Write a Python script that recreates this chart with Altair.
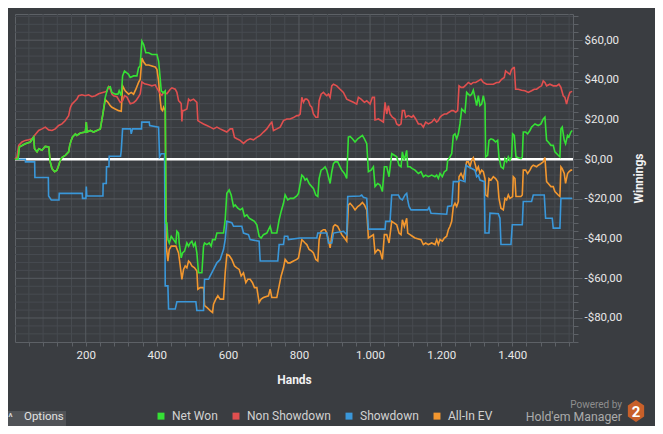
import altair as alt
import pandas as pd

# ---------------- data ----------------
series_names = ["Net Won", "Non Showdown", "Showdown", "All-In EV"]
series_colors = ["#35e035", "#e04f4f", "#3a97d9", "#f2972f"]
draw_order = ["All-In EV", "Showdown", "Non Showdown", "Net Won"]

net_hands = [1, 9.5, 13, 30, 44, 53.5, 56, 63, 68, 77, 86, 96, 100, 105, 112.6, 119, 124, 128.5, 133, 142.5,
             152, 155, 159, 163, 171, 175, 185, 199, 201.6, 203.5, 213, 222, 231.6, 241, 247.5, 255, 262.5, 269,
             273.7, 283, 290.6, 294, 300, 303.7, 309, 320.6, 325, 334.6, 344, 348.7, 353, 358, 363, 369, 377, 386,
             395.5, 400.3, 405, 406.8, 412.5, 418, 423.7, 425.6, 428.4, 431.2, 435, 440.6, 447, 453.7, 456.5, 461,
             463, 468.7, 472.4, 478, 484.6, 489.3, 494, 498.7, 503.4, 508, 512.7, 517.4, 526.8, 531.5, 534.3,
             540.8, 547.4, 553, 556.8, 564.3, 569, 587.7, 592.4, 597, 603.6, 609.2, 615.8, 620.5, 628, 634.5, 641,
             646.7, 653.3, 659.8, 667.3, 674.8, 681.4, 688, 693.6, 700, 709.5, 718.9, 723.6, 737.6, 744.2, 749.8,
             756.4, 761, 768.5, 775, 784.5, 793.8, 798.6, 808, 812.6, 817.3, 822, 828.6, 836, 840.7, 847.3, 853,
             856.7, 862.3, 868.8, 873.5, 878.2, 882.9, 887.6, 892.3, 897, 901.6, 909, 915.7, 920.4, 927.9, 934.4,
             939, 943.8, 950.4, 957.8, 965.4, 972, 978.5, 984.1, 990.7, 995.3, 1002.8, 1009.4, 1014, 1021.6,
             1028.1, 1034.7, 1040.3, 1046.9, 1053.4, 1061, 1068.4, 1075, 1081.5, 1087.2, 1090.9, 1096.5, 1103.1,
             1105.9, 1112.5, 1119, 1126.5, 1135.9, 1143.4, 1150, 1156.5, 1164, 1173.4, 1182.7, 1187.5, 1192.2,
             1196.9, 1203.4, 1209, 1215.6, 1218.4, 1222.2, 1229.7, 1234.3, 1239, 1243.7, 1248.4, 1253, 1257.8,
             1262.4, 1267.1, 1271.8, 1276.5, 1281.2, 1285.9, 1290.5, 1295.2, 1299.9, 1304.6, 1309.3, 1314, 1318.7,
             1323.4, 1325.2, 1330.8, 1334.6, 1340.2, 1346.8, 1353.3, 1359, 1362.7, 1368.3, 1374.9, 1379.6, 1384.3,
             1389, 1393.6, 1398.3, 1401.1, 1405.8, 1410.5, 1424.5, 1428.3, 1431.1, 1437.7, 1443.3, 1449.8, 1454.5,
             1459.2, 1463.9, 1473.3, 1480.8, 1487.3, 1492, 1496.7, 1501.4, 1508.9, 1515.4, 1520.1, 1529.5, 1534.2,
             1537, 1540.7, 1546.4, 1550.1, 1555.7, 1559.5, 1565.1, 1568.8]
net_vals = [0, 0, 6.2, 7.8, 8.7, 11.2, 5.3, 3.7, 5.3, 4.5, 6.5, 6.2, -1.3, -4.7, -6.3, -5.5, -3, -0.5, 0.8, 2,
            3.7, 7, 9.5, 11.2, 12.8, 12, 13.2, 13.7, 18.7, 13.7, 14.5, 13.7, 14.5, 15.3, 22, 31.2, 36.2, 36.5,
            33.7, 32.8, 32.8, 34.5, 32, 42, 44.5, 42.8, 41.2, 42, 42, 46.2, 47, 59.5, 57.8, 53.7, 53.7, 52.8,
            52.8, 52.8, 49.5, 46.2, 34.5, 33.5, 34.5, -32.2, -32.2, -40.5, -42.2, -38.8, -40.5, -42.2, -36.3, -37.2,
            -42.2, -49.7, -47.2, -46.3, -42.2, -43.8, -42.2, -41.3, -43.8, -42.2, -47.2, -57.2, -57.2, -43.8, -42.2,
            -43, -42.2, -43.8, -40.5, -40.5, -37.2, -37.2, -30.5, -17.2, -15.5, -18, -23.8, -23, -24.7, -25.5, -24.7,
            -28.8, -28, -29.7, -30.5, -31.3, -33, -38.8, -39.7, -38, -37.2, -33.8, -37.2, -37.2, -30.5, -26.3,
            -22.2, -18, -20.5, -19.7, -19.7, -18.5, -17.2, -8, -8.8, -10.5, -9.7, -12.2, -13.8, -14.7, -18, -18.8,
            -9.7, -5.5, -4.7, -3.8, -5.5, -8.8, -12.2, -6.3, -2.2, -1.3, -1.3, -3.8, -5.5, -7.2, -9.7,
            11.2, 11.5, 10.3, 8.7, 10.3, 11.2, 12, 10.3, 7.8, -6.3, -5.5, -3.8, -13.8, -12.2,
            -13, -16.3, -3.8, -3.8, -8.8, 2.8, 2, 1.2, -3, -3.8, 3.7, -0.5, 4.5,
            -3.8, -3.8, -4.7, -5.5, -7.2, -6.3, -8.8, -8, -8.8, -8, -8.8, -8, -9.7,
            -7.2, -8.8, -6.3, -5.5, -0.5, 0.3, 2.8, 12, 12.8, 10.3, 12.8, 17.8, 25.3,
            24.5, 23.7, 33.7, 32.8, 32, 32.8, 34.8, 31.2, 27, 32, 27, 27.8, 32,
            27.8, 1.2, 2, 9.5, 10.3, 9.8, 8.7, 9.5, 1.2, -3.8, -4.7, 0.3, -1.3,
            1.2, -0.5, 1.2, 12.8, 12, 1.2, 0.3, 1.2, 13.7, 13.7, 12.8, 14.5, 16.2,
            17, 17.8, 17, 17.8, 20.3, 21.2, 9.5, 8.7, 7, 7, 3.7, 2, 1.2,
            15.3, 16.2, 9.5, 7.8, 12, 11.2, 13.7, 14.5]

nonsd_hands = [1, 6.7, 11.4, 20.7, 30, 39.5, 48.9, 58.2, 67.6, 77, 86.3, 95.7, 105, 114.4, 123.8, 133.2, 142.6,
               152, 156.6, 161.3, 170.7, 175.3, 180, 189.4, 198.8, 208, 217.5, 226.9, 236.3, 245.6, 255, 259.7,
               264.4, 269, 273.7, 278.4, 287.8, 297, 303.7, 309.3, 316, 325.3, 334.6, 341.2, 348.7, 353.4, 358,
               365.6, 377, 386, 395.5, 400, 405, 409.7, 414.3, 419, 428.4, 437.8, 442.4, 451.8, 456.5, 461.2, 465.9,
               468.7, 470.6, 472.4, 475.2, 484.6, 489.3, 494, 503.4, 512.7, 515.5, 522.1, 531.5, 540.8, 550.2,
               559.6, 569, 578.3, 587.7, 597, 606.4, 613, 618.6, 625.2, 634.5, 643.9, 653.3, 662.6, 672, 681.4,
               690.8, 700.1, 709.5, 718.9, 723.6, 728.2, 737.6, 747, 756.4, 765.7, 775.1, 784.5, 793.8, 798.6,
               803.3, 808, 812.6, 817.3, 822, 826.7, 831.4, 836, 840.7, 847.3, 853, 856.7, 862.3, 868.8, 873.5,
               878.2, 882.9, 887.6, 892.3, 897, 906.3, 915.7, 925, 934.4, 943.8, 953.2, 962.5, 967.2, 974.7, 984.1,
               990.7, 1000, 1006.6, 1012.2, 1014, 1023.5, 1031, 1037.5, 1042.2, 1046.9, 1051.6, 1056.2, 1062.8,
               1070.3, 1075, 1081.5, 1087.2, 1090.9, 1096.5, 1100.3, 1107.8, 1117.2, 1121.8, 1128.4, 1135.9,
               1143.4, 1150, 1156.5, 1164, 1173.4, 1180.9, 1187.4, 1192.2, 1196.9, 1201.5, 1209, 1215.6, 1222.2,
               1229.7, 1234.3, 1240.9, 1246.5, 1250.3, 1255.9, 1262.4, 1267.1, 1271.8, 1276.5, 1284, 1290.5,
               1297.1, 1304.6, 1312.1, 1318.7, 1328, 1337.4, 1346.8, 1356.1, 1362.7, 1370.2, 1377.7, 1381.4,
               1387.1, 1393.6, 1398.3, 1403.9, 1405.8, 1409.6, 1417, 1426.4, 1435.8, 1445.2, 1454.5, 1462, 1468.6,
               1475.1, 1482.6, 1487.3, 1492, 1496.7, 1506, 1515.4, 1524.8, 1531.4, 1537, 1543.5, 1548.2, 1552.9,
               1557.6, 1562.3, 1568.8]
nonsd_vals = [0, 1.2, 7, 8.7, 9.5, 9.8, 10.3, 12.5, 14.5, 15.3, 16.2, 14.8, 14.5, 15.3, 17, 17.8, 19.5,
              22, 26, 27.8, 29.5, 30.3, 32, 32.5, 32, 32.5, 31.5, 32, 33, 33.5, 34, 34.3,
              36.5, 35.3, 32.8, 32, 31.5, 28.7, 29.5, 32, 31.3, 28, 28.5, 29.5, 31.5, 33, 39,
              38, 37.5, 37, 37.5, 36, 34.5, 33, 32.3, 33.7, 33, 35.3, 36, 35.3, 33.7, 29.5, 28.7,
              28, 19, 24.5, 24.5, 25.3, 30.3, 29.5, 30.3, 28.7, 19.5, 18.7, 17.8, 17, 16.2,
              15.3, 16.2, 15.3, 14.5, 13.7, 15.3, 15.3, 11, 10.3, 9.5, 8, 9.5, 10.3, 9.8, 11,
              12, 13.7, 15.3, 17.8, 18.7, 14.5, 15.3, 16.2, 19.5, 20.3, 20.3, 21, 22, 22,
              22.8, 31.2, 28.7, 30.3, 30.3, 29.5, 27, 26.2, 22.8, 21.2, 21.2, 29.5, 32.8, 33.7, 32.8,
              32, 32.8, 31.2, 37, 37.8, 37, 35.3, 33.7, 30.3, 29.5, 28.7, 27.8, 31.2, 30.3, 28.7,
              29.5, 27.8, 31.2, 31.2, 19.8, 20.3, 19.5, 18.7, 28.7, 22.8, 27, 22.8, 21.2,
              20.3, 17.8, 17, 17.8, 24.5, 24.5, 21.2, 22, 21.2, 22, 20.3, 17.8,
              17.8, 16.2, 18.7, 17.8, 18.7, 20.3, 18.7, 19.5, 21.2, 22, 22.8, 22.8, 23.7,
              24.5, 24.5, 23.7, 24.5, 37, 36.2, 36.2, 37, 37.8, 38.7, 37.8, 38.7,
              38.7, 39.5, 40.3, 38.7, 37.8, 37.8, 37.8, 38.7, 38.7, 40.3, 41.2, 44.5,
              43.7, 42.8, 45.3, 46.2, 46.2, 35.3, 35.3, 34.8, 34.5, 33.7, 34.5, 35.3, 35.3,
              36.2, 37, 39.5, 38.7, 37, 37.8, 37, 37, 37.8, 36.2, 32, 31.2, 27.8,
              31.2, 33.7, 34.2]

sd_hands = [1, 30, 30.5, 56.3, 57, 94.8, 95.5, 103, 124.7, 125.5, 190.3, 191, 200.5, 201.6, 203, 248.4, 249,
            257.8, 258.5, 265.3, 266, 298, 300, 303.7, 326, 328, 331.8, 357, 357.5, 378.7, 380, 405, 407.7,
            412.5, 421.8, 423.7, 431.2, 433.1, 451.8, 456.5, 509.9, 512.7, 531.5, 534.3, 545.5, 550.2, 559.6,
            569, 578.3, 587.7, 592.4, 597, 611.1, 615.8, 639.2, 643.9, 657.9, 662.6, 687.9, 690.8, 740.4, 744.2,
            756.4, 759.2, 768.5, 770.4, 803.2, 850.1, 852.9, 878.2, 882.9, 892.3, 897, 925.1, 934.4, 937.2,
            971.9, 976.6, 981.3, 990.7, 995.3, 1042.2, 1044, 1056.2, 1060.9, 1079.7, 1084.4, 1090.9, 1098.4,
            1103.1, 1105.9, 1109.7, 1115.3, 1162.1, 1165.9, 1171.5, 1215.6, 1218.4, 1229.7, 1234.3, 1248.4,
            1253, 1267.1, 1269.9, 1276.5, 1285.9, 1295.2, 1299.9, 1304.6, 1309.3, 1321.5, 1323.4, 1334.6,
            1337.4, 1360.8, 1365.5, 1368.3, 1396.4, 1400.2, 1428.3, 1431.1, 1454.5, 1459.2, 1490.1, 1493.9,
            1512.6, 1515.4, 1534.2, 1537, 1568.8]
sd_vals = [0, 0, -1.3, -1.3, -9.2, -9.2, -18.5, -20.5, -20.5, -17.2, -17.2, -19.7, -19.7, -13.8, -18.5, -18.5, -12.2,
           -12.2, -3.8, -3.8, 1.5, 1.5, 4.5, 15.3, 15.3, 12.8, 15.3, 15.3, 18.7, 18.7, 17, 16.2, 1.2,
           2.8, 2.8, -63.8, -63.8, -75.5, -75.5, -71.8, -71.8, -76.2, -76.2, -60.5, -60.5, -58.8, -55.5,
           -52.2, -50.5, -45.5, -40.5, -31.3, -32, -33.8, -33.8, -37.2, -38, -40.5, -41.3, -51.3, -51.3, -43,
           -43, -38.8, -38.8, -40.5, -39.7, -39.7, -37.2, -37.2, -42.2, -42.2, -37.2, -36.3, -38, -18.8,
           -18.5, -18, -19.2, -19.7, -35.2, -35.2, -31.3, -31.3, -18, -18, -19.7, -20.5, -18,
           -17.2, -20.5, -23.8, -25.5, -25.5, -24.3, -27.2, -27.7, -23.8, -23.5, -11.3, -11.3,
           -10.5, -11.3, -3, -3.8, -4.7, -5.5, -8.8, -8, -10.5, -11.3, -37.2, -37.2,
           -27.2, -27.5, -29.7, -43, -43, -33, -33, -21.3, -21.3, -18, -18, -29.7,
           -29.7, -34.7, -34.7, -19.7, -19.7]

# All-In EV runs under Net Won until about hand 248, then separates
ev_hands = [h for h in net_hands if h <= 247.5] + [
    255, 262.5, 269, 273.7, 283, 292.5, 300, 303.7, 311, 320.6, 328, 334.6, 341.2, 348.7, 353.4, 358, 363, 369.3,
    377, 386.2, 395.5, 400.3, 405, 409.7, 412.5, 416.2, 419, 423.7, 426.5, 431.2, 435, 440.6, 453.7, 461.2,
    465.9, 470.6, 475.2, 479.9, 484.6, 489.3, 494, 498.7, 506.2, 512.7, 515.5, 522.1, 531.5, 534.3, 540.8,
    550.2, 556.8, 559.6, 566.1, 571.8, 578.3, 587.7, 592.4, 597.1, 603.6, 611.1, 618.6, 625.2, 631.7, 637.3,
    643.9, 650.5, 656.1, 662.6, 669.2, 674.8, 681.4, 687.9, 693.6, 700.1, 714.2, 718.9, 723.6, 737.6, 744.2,
    749.8, 756.4, 761, 768.5, 775.1, 784.5, 793.8, 798.6, 808, 812.6, 817.3, 822, 828.6, 836, 840.7, 847.3,
    853, 856.7, 862.3, 868.8, 873.5, 878.2, 882.9, 887.6, 892.3, 897, 901.6, 909, 915.7, 920.4, 927.9, 934.4,
    939, 943.8, 950.4, 957.8, 965.4, 972, 978.5, 984.1, 990.7, 995.3, 1002.8, 1009.4, 1014, 1021.6, 1028.1,
    1034.7, 1040.3, 1046.9, 1053.4, 1061, 1068.4, 1075, 1081.5, 1087.2, 1090.9, 1096.5, 1103.1, 1105.9,
    1112.5, 1119, 1126.5, 1143.4, 1150, 1156.5, 1164, 1173.4, 1182.7, 1187.5, 1192.2, 1196.9, 1203.4, 1209,
    1215.6, 1220.3, 1225, 1229.7, 1234.3, 1239, 1243.7, 1248.4, 1250.3, 1255.9, 1262.4, 1267.1, 1271.8,
    1276.5, 1281.2, 1285.9, 1290.5, 1295.2, 1299.9, 1304.6, 1309.3, 1314, 1318.7, 1323.4, 1325.2, 1330.8,
    1334.6, 1340.2, 1346.8, 1353.3, 1359, 1362.7, 1368.3, 1374.9, 1379.6, 1384.3, 1389, 1393.6, 1401.1, 1403,
    1407.7, 1410.5, 1424.5, 1428.3, 1431.1, 1437.7, 1443.3, 1449.8, 1454.5, 1459.2, 1468.6, 1473.3, 1480.8,
    1487.3, 1492, 1496.7, 1501.4, 1508.9, 1515.4, 1520.1, 1529.5, 1534.2, 1537, 1540.7, 1546.4, 1550.1,
    1555.7, 1559.5, 1565.1, 1568.8]
ev_vals = [v for h, v in zip(net_hands, net_vals) if h <= 247.5] + [
    30, 28.7, 27, 26.2, 25.3, 24.5, 24.2, 37, 34.5, 32.8, 33.7, 32.8, 35.3, 38.7, 40.3, 51, 49, 47.5,
    47.5, 47, 46.5, 45.3, 39.5, 29.5, 25.3, 24.5, 26.2, 24.5, -43.8, -51.3, -45.5, -43.8, -43.8, -47.2,
    -53.8, -60.5, -55.5, -53.8, -54.7, -51.3, -52.2, -53.8, -54.7, -56.3, -65.5, -64.7, -64.7, -73.8, -74.7,
    -76.3, -77.2, -73, -70.5, -68.8, -70.5, -70.5, -57.2, -48, -48.5, -50.5, -53.8, -54.7, -55.5, -58.8,
    -57.2, -62.2, -60.5, -60.5, -62.2, -64.7, -64.7, -72.2, -70.5, -69.7, -68.8, -65.5, -69.7, -69.7, -63.8,
    -58.8, -54.7, -50.5, -52.2, -52.2, -51.3, -50.5, -49.7, -40.5, -41.3, -42.2, -43, -45.5, -46.3, -47.2, -50.5,
    -51.3, -40.5, -36.3, -35.5, -35.5, -37.2, -40.5, -44.7, -38.8, -33.8, -33, -33.8, -36.3, -38, -39.7, -41.3,
    -23, -22.2, -23.5, -25.5, -23.8, -23, -21.8, -23, -25.5, -39.7, -38.8, -38, -47.2, -45.5, -46.3,
    -50.5, -38, -38, -42.2, -31.3, -32.2, -33, -37.2, -38, -30.5, -33.8, -29.7, -37.2,
    -38, -38.8, -39.7, -40.5, -43, -42.2, -43, -42.2, -43, -40.5, -43, -40.5, -41.3, -39.7,
    -38.8, -35.5, -33.8, -31.3, -23.8, -22.2, -23.8, -21.3, -8.8, -7.2, -9.7, -5.5, -1.3,
    -1.3, -3.8, -0.5, 0.8, -2.2, -5.5, -3.8, -7.2, -5.5, -6.3, -9.7, -18, -18.8,
    -9.7, -10.5, -8.8, -9.7, -11.3, -19.7, -24.7, -25.5, -19.7, -20.5, -18, -19.7, -18.8, -8.8,
    -9.7, -18.8, -18.8, -18, -5.5, -5.5, -7.2, -5.5, -3.8, -3, -3.8, -3, -2.2,
    -1.3, 0.8, -11.3, -12.2, -13.8, -13.8, -16.3, -18, -18.8, -3.8, -4.7, -7.2, -12.2,
    -7.2, -6.3, -5.5, -5.5]

x_domain = [1, 1571]
y_domain = [-92.1, 73.2]
x_ticks = list(range(40, 1571, 40))
y_ticks = list(range(-92, 73, 4))

legend_x, legend_y = 140, 396
footer_texts = ["Options", "Powered by", "Hold'em Manager", "2"]

# ---------------- build ----------------
rows = []
for name, hs, vs in [("Net Won", net_hands, net_vals), ("Non Showdown", nonsd_hands, nonsd_vals),
                     ("Showdown", sd_hands, sd_vals), ("All-In EV", ev_hands, ev_vals)]:
    for h, v in zip(hs, vs):
        rows.append({"series": name, "hands": h, "value": v})
df = pd.DataFrame(rows)

FONT = "Roboto"
xscale = alt.Scale(domain=x_domain, nice=False, zero=False)
yscale = alt.Scale(domain=y_domain, nice=False, zero=False)

v_minor = [v for v in x_ticks if v % 200]
v_major = [v for v in x_ticks if v % 200 == 0]
h_minor = [v for v in y_ticks if v % 20 and v != -92]
h_major = [v for v in y_ticks if v % 20 == 0 and v != 0]

x_axis = alt.Axis(
    values=x_ticks,
    labelExpr="datum.value % 200 === 0 ? replace(format(datum.value, ','), ',', '.') : ''",
    grid=False, domain=False, tickColor="#5d6166", tickSize=4,
    labelColor="#e8e8e8", labelFont=FONT, labelFontSize=11.5, labelPadding=3, labelOverlap=False,
    labelFlush=False,
    title="Hands", titleColor="#f2f2f2", titleFont=FONT, titleFontSize=12, titleFontWeight="bold",
    titlePadding=14,
)
y_axis = alt.Axis(
    orient="right",
    values=y_ticks,
    labelExpr="datum.value % 20 === 0 ? (datum.value < 0 ? '-$' : '$') + abs(datum.value) + ',00' : ''",
    grid=False, domain=False, tickColor="#5d6166",
    tickSize={"condition": {"test": "datum.value % 20 === 0", "value": 9}, "value": 5},
    labelColor="#e8e8e8", labelFont=FONT, labelFontSize=11.5, labelPadding=2, labelOverlap=False,
    labelFlush=False,
    title="Winnings", titleColor="#f2f2f2", titleFont=FONT, titleFontSize=12, titleFontWeight="bold",
    titleAngle=270, titleBaseline="top", titlePadding=12,
)
legend = alt.Legend(
    orient="none", legendX=legend_x, legendY=legend_y, direction="horizontal", title=None,
    symbolType="square", symbolSize=12, symbolStrokeWidth=3.5, labelColor="#d2d2d2",
    labelFont=FONT, labelFontSize=12, columnPadding=9, labelOffset=5, padding=0,
)


def vgrid(vals, color):
    return alt.Chart(pd.DataFrame({"hands": vals})).mark_rule(color=color, strokeWidth=1).encode(
        x=alt.X("hands:Q", scale=xscale, axis=x_axis))


def hgrid(vals, color):
    return alt.Chart(pd.DataFrame({"value": vals})).mark_rule(color=color, strokeWidth=1).encode(
        y=alt.Y("value:Q", scale=yscale, axis=y_axis))


zero_line = alt.Chart(pd.DataFrame({"value": [0]})).mark_rule(color="#ffffff", strokeWidth=2.5).encode(
    y=alt.Y("value:Q", scale=yscale, axis=y_axis))

base = alt.Chart(df).mark_line(strokeWidth=1.6).encode(
    x=alt.X("hands:Q", scale=xscale, axis=x_axis),
    y=alt.Y("value:Q", scale=yscale, axis=y_axis),
    color=alt.Color("series:N", scale=alt.Scale(domain=series_names, range=series_colors), legend=legend),
)
line_layers = [base.transform_filter(alt.datum.series == s) for s in draw_order]

one = pd.DataFrame({"t": [""]})
opt_box = alt.Chart(one).mark_rect(color="#505357").encode(
    x=alt.value(-15), x2=alt.value(51), y=alt.value(397), y2=alt.value(420))
caret = alt.Chart(pd.DataFrame({"t": ["^"]})).mark_text(
    color="#d8d8d8", font=FONT, fontSize=10, fontWeight="bold", align="center", baseline="middle").encode(
    text="t:N", x=alt.value(-4.5), y=alt.value(404))
opt_text = alt.Chart(pd.DataFrame({"t": [footer_texts[0]]})).mark_text(
    color="#e2e2e2", font=FONT, fontSize=11.5, align="left", baseline="middle").encode(
    text="t:N", x=alt.value(9), y=alt.value(403))
powered = alt.Chart(pd.DataFrame({"t": [footer_texts[1]]})).mark_text(
    color="#8e8e8e", font=FONT, fontSize=10, align="right", baseline="middle").encode(
    text="t:N", x=alt.value(607), y=alt.value(391))
hem = alt.Chart(pd.DataFrame({"t": [footer_texts[2]]})).mark_text(
    color="#ababab", font=FONT, fontSize=12.3, align="right", baseline="middle").encode(
    text="t:N", x=alt.value(607), y=alt.value(403))
hexagon = alt.Chart(one).mark_point(
    shape="M0,-1L0.74,-0.5L0.74,0.5L0,1L-0.74,0.5L-0.74,-0.5Z", filled=True, color="#c8602a",
    opacity=1, size=484).encode(x=alt.value(621), y=alt.value(397))
two = alt.Chart(pd.DataFrame({"t": [footer_texts[3]]})).mark_text(
    color="#ffffff", font=FONT, fontSize=15, fontWeight="bold", align="center", baseline="middle").encode(
    text="t:N", x=alt.value(621), y=alt.value(398))

chart = alt.layer(
    vgrid(v_minor, "#474b50"), hgrid(h_minor, "#474b50"),
    vgrid(v_major, "#575b60"), hgrid(h_major, "#575b60"),
    zero_line, *line_layers,
    opt_box, caret, opt_text, powered, hem, hexagon, two,
).properties(
    width=558, height=328,
    autosize=alt.AutoSizeParams(type="none"),
    padding={"left": 7, "top": 6, "right": 82, "bottom": 84},
    background="#3a3d41",
).configure(font=FONT).configure_view(stroke="#5d6166", strokeWidth=1)

chart.save("out.html", embed_options={"renderer": "svg", "actions": False})
